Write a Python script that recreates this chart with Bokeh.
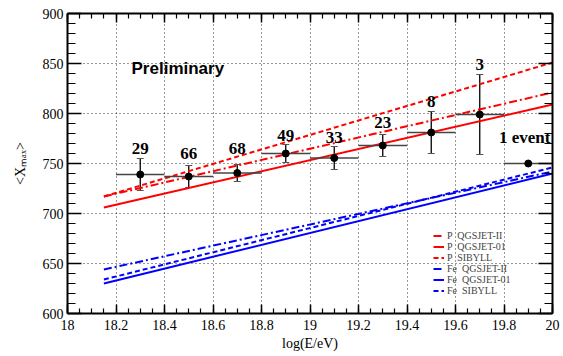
import numpy as np
from bokeh.plotting import figure
from bokeh.models import (Range1d, LinearAxis, SingleIntervalTicker, CustomJSTickFormatter,
                          Legend, LegendItem, Label, LabelSet, ColumnDataSource, Whisker, TeeHead)
from bokeh.embed import file_html
from bokeh.resources import INLINE

# ---------------- data ----------------
log_e = [18.3, 18.5, 18.7, 18.9, 19.1, 19.3, 19.5, 19.7, 19.9]
log_e_err = [0.1, 0.1, 0.1, 0.1, 0.1, 0.1, 0.1, 0.1, 0.1]
xmax_mean = [739, 737, 740.5, 760, 755.5, 768, 781, 799, 750]
xmax_err = [16, 11, 8.5, 9, 11.5, 11, 21, 40, 0]
n_events = ["29", "66", "68", "49", "33", "23", "8", "3", "1 event"]
# annotation anchor positions for the event-count labels (text centres)
label_x = [18.3, 18.5, 18.7, 18.9, 19.1, 19.3, 19.5, 19.7, 20.0]
label_y = [765, 760, 765, 778, 776, 791, 812, 849, 776]

model_x = [18.15, 20.0]
p_qgsjet2 = [717, 821]
p_qgsjet01 = [706, 809]
p_sibyll = [717, 851]
fe_qgsjet2 = [644, 742]
fe_qgsjet01 = [630, 740]
fe_sibyll = [634, 746]

X_MIN, X_MAX = 18.0, 20.0
Y_MIN, Y_MAX = 600, 900
x_ticks_interval = 0.2
y_ticks_interval = 50

# ---------------- figure ----------------
p = figure(width=563, height=356, x_range=Range1d(X_MIN, X_MAX), y_range=Range1d(Y_MIN, Y_MAX),
           output_backend="svg", toolbar_location=None,
           min_border_left=67, min_border_right=11, min_border_top=13, min_border_bottom=43)
p.outline_line_color = None
p.background_fill_color = "white"
p.border_fill_color = "white"

xt = SingleIntervalTicker(interval=x_ticks_interval, num_minor_ticks=4)
yt = SingleIntervalTicker(interval=y_ticks_interval, num_minor_ticks=5)

bx = p.below[0]
ly = p.left[0]
bx.ticker = xt
ly.ticker = yt
bx.formatter = CustomJSTickFormatter(code="return String(Math.round(tick*10)/10);")

SERIF = "'Liberation Serif'"

def style_axis(ax, major, minor):
    ax.axis_line_width = 2
    ax.axis_line_color = "black"
    ax.major_tick_in = major
    ax.major_tick_out = 0
    ax.minor_tick_in = minor
    ax.minor_tick_out = 0
    ax.major_tick_line_width = 1.5
    ax.minor_tick_line_width = 1.2
    ax.major_tick_line_color = "black"
    ax.minor_tick_line_color = "black"
    ax.major_label_text_font = SERIF
    ax.major_label_text_font_size = "14px"
    ax.major_label_text_color = "black"
    ax.axis_label_text_color = "black"

style_axis(bx, 9, 5)
style_axis(ly, 14, 8)
bx.major_label_standoff = 6
ly.major_label_standoff = 4
bx.axis_label = "log(E/eV)"
bx.axis_label_text_font = SERIF
bx.axis_label_text_font_size = "14px"
bx.axis_label_text_font_style = "normal"
bx.axis_label_standoff = 3
ly.axis_label = "<Xₘₐₓ>"
ly.axis_label_text_font = SERIF
ly.axis_label_text_font_size = "14px"
ly.axis_label_text_font_style = "normal"
ly.axis_label_standoff = 12

empty = CustomJSTickFormatter(code="return '';")
top = LinearAxis(ticker=xt, formatter=empty)
right = LinearAxis(ticker=yt, formatter=empty)
style_axis(top, 9, 5)
style_axis(right, 14, 8)
for ax in (top, right):
    ax.major_label_text_font_size = "1px"
    ax.major_label_standoff = 0
p.add_layout(top, "above")
p.add_layout(right, "right")

for g, t in ((p.xgrid[0], xt), (p.ygrid[0], yt)):
    g.ticker = t
    g.grid_line_color = "black"
    g.grid_line_dash = "1 3"
    g.grid_line_width = 1
    g.grid_line_alpha = 0.8

# ---------------- model lines ----------------
DASHDOT = "8 3 2 3"
DASH = "5 3"
r1 = p.line(model_x, p_qgsjet2, line_color="red", line_width=2, line_dash=DASHDOT)
r2 = p.line(model_x, p_qgsjet01, line_color="red", line_width=2)
r3 = p.line(model_x, p_sibyll, line_color="red", line_width=2, line_dash=DASH)
r4 = p.line(model_x, fe_qgsjet2, line_color="blue", line_width=2, line_dash=DASHDOT)
r5 = p.line(model_x, fe_qgsjet01, line_color="blue", line_width=2)
r6 = p.line(model_x, fe_sibyll, line_color="blue", line_width=2, line_dash=DASH)

# ---------------- data points ----------------
xm = np.array(log_e)
xe = np.array(log_e_err)
ym = np.array(xmax_mean, dtype=float)
ye = np.array(xmax_err, dtype=float)

p.segment(x0=xm - xe, y0=ym, x1=xm + xe, y1=ym, line_color="#444444", line_width=1.3)

mask = ye > 0
ysrc = ColumnDataSource(dict(base=xm[mask], lower=(ym - ye)[mask], upper=(ym + ye)[mask]))
wh = Whisker(source=ysrc, base="base", lower="lower", upper="upper", dimension="height",
             line_color="black", line_width=1.3,
             upper_head=TeeHead(size=7, line_color="#555555", line_width=1.2),
             lower_head=TeeHead(size=7, line_color="#555555", line_width=1.2))
p.add_layout(wh)

p.scatter(xm, ym, size=7, marker="circle", fill_color="black", line_color="black")

# ---------------- labels ----------------
src_c = ColumnDataSource(dict(x=label_x[:-1], y=label_y[:-1], t=n_events[:-1]))
src_r = ColumnDataSource(dict(x=label_x[-1:], y=label_y[-1:], t=n_events[-1:]))
for src, al, off in ((src_c, "center", 0), (src_r, "right", -2)):
    p.add_layout(LabelSet(x="x", y="y", text="t", source=src, text_font="Liberation Sans",
                          text_font_style="bold", text_font_size="17px", text_align=al,
                          text_baseline="middle", text_color="black", x_offset=off))

p.add_layout(Label(x=18.264, y=845, text="Preliminary", text_font="Liberation Sans",
                   text_font_style="bold", text_font_size="17px", text_color="black",
                   text_baseline="middle", text_align="left"))

# ---------------- legend ----------------
legend = Legend(items=[
    LegendItem(label="P  QGSJET-II", renderers=[r1]),
    LegendItem(label="P  QGSJET-01", renderers=[r2]),
    LegendItem(label="P  SIBYLL", renderers=[r3]),
    LegendItem(label="Fe  QGSJET-II", renderers=[r4]),
    LegendItem(label="Fe  QGSJET-01", renderers=[r5]),
    LegendItem(label="Fe  SIBYLL", renderers=[r6]),
], location=(366, 17), background_fill_alpha=0, border_line_alpha=0, padding=0, margin=0,
    spacing=0, label_text_font=SERIF, label_text_font_size="10px", glyph_width=11,
    glyph_height=9, label_height=9, label_standoff=3)
p.add_layout(legend)

open("out.html", "w").write(file_html(p, INLINE))
